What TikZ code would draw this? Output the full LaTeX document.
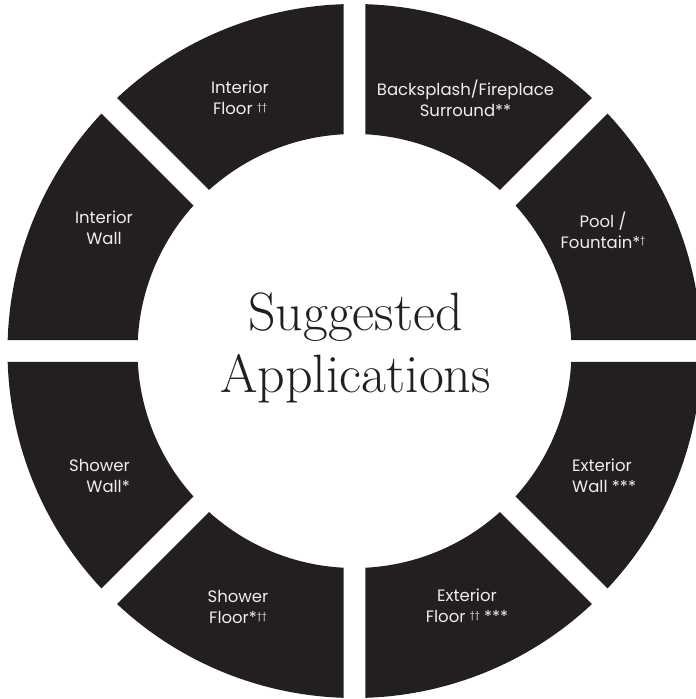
\documentclass[tikz,border=0pt]{standalone}
\usepackage{fontspec}
\setmainfont{Latin Modern Roman}
\newfontfamily\labelfont{Poppins}
\definecolor{ringblack}{HTML}{231F20}
\definecolor{labelgrey}{HTML}{EEEEEE}
\newcommand{\dg}{\raisebox{0.5ex}{\fontsize{9}{9}\selectfont\char"2020}}
\begin{document}
\begin{tikzpicture}[x=1pt,y=1pt,
  segment/.style={fill=ringblack},
  seglabel/.style={text=labelgrey,font=\labelfont\fontsize{16.5}{21}\selectfont,inner sep=0pt},
  title/.style={text=ringblack,font=\fontsize{54}{62}\selectfont,align=center,inner sep=0pt}]
\useasboundingbox (-354.5,-348) rectangle (341.5,351);
\pgfmathsetmacro{\Ro}{347}
\pgfmathsetmacro{\Ri}{217}
\pgfmathsetmacro{\dRo}{asin(11/\Ro)}
\pgfmathsetmacro{\dRi}{asin(11/\Ri)}
\foreach \k in {0,...,7}{
  \pgfmathsetmacro{\a}{45*\k}
  \pgfmathsetmacro{\b}{45*(\k+1)}
  \pgfmathsetmacro{\ao}{\a+\dRo}
  \pgfmathsetmacro{\bo}{\b-\dRo}
  \pgfmathsetmacro{\ai}{\a+\dRi}
  \pgfmathsetmacro{\bi}{\b-\dRi}
  \fill[segment] (\ao:\Ro) arc[start angle=\ao,end angle=\bo,radius=\Ro]
    -- (\bi:\Ri) arc[start angle=\bi,end angle=\ai,radius=\Ri] -- cycle;
}
\node[title,anchor=base] (title) at (1,-41) {Suggested\\Applications};
\node[seglabel,align=center] (intfloor) at (-114.5,253) {Interior\\Floor \dg\dg};
\node[seglabel,align=center] (backsplash) at (111,253) {Backsplash/Fireplace\\Surround**};
\node[seglabel,align=center] (pool) at (248.5,121) {Pool /\\Fountain*\dg};
\node[seglabel,align=center] (intwall) at (-250.5,123) {Interior\\Wall};
\node[seglabel,align=right,anchor=east] (showerwall) at (-224.5,-125) {Shower\\Wall*};
\node[seglabel,align=left,anchor=west] (extwall) at (217.5,-125) {Exterior\\Wall ***};
\node[seglabel,align=center] (showerfloor) at (-116.5,-256) {Shower\\Floor*\dg\dg};
\node[seglabel,align=center] (extfloor) at (112.5,-255) {Exterior\\Floor \dg\dg{} ***};
\end{tikzpicture}
\end{document}
